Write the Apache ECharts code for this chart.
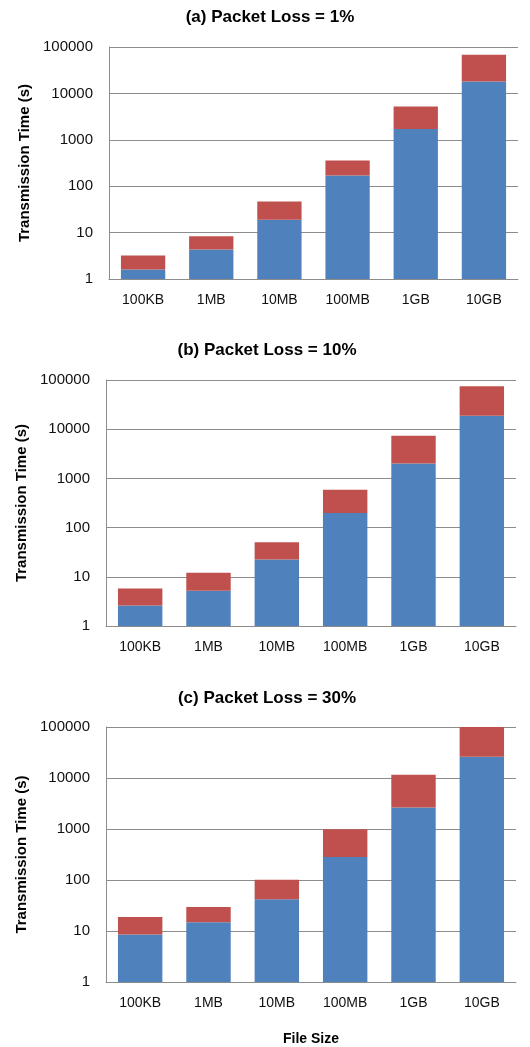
<!DOCTYPE html>
<html>
<head>
<meta charset="utf-8">
<script src="https://cdn.jsdelivr.net/npm/echarts@6/dist/echarts.min.js"></script>
<style>
  html, body { margin: 0; padding: 0; background: #fff; }
  #chart { width: 530px; height: 1047px; }
</style>
</head>
<body>
<div id="chart"></div>
<script>
const fileSizes = ['100KB', '1MB', '10MB', '100MB', '1GB', '10GB'];
const yTicks = [1, 10, 100, 1000, 10000, 100000];

const panelTitles = ['(a) Packet Loss = 1%', '(b) Packet Loss = 10%', '(c) Packet Loss = 30%'];

// blue = lower segment, red = upper segment (stacked)
const blueLoss1 = [1.6, 4.3, 19, 170, 1700, 18000];
const redLoss1 = [1.6, 4.0, 28, 190, 3500, 50000];

const blueLoss10 = [2.6, 5.2, 22.6, 198, 2000, 18800];
const redLoss10 = [3.2, 6.9, 27.6, 392, 5400, 55500];

const blueLoss30 = [8.5, 14.9, 42, 281, 2650, 26100];
const redLoss30 = [10.4, 14.5, 59, 705, 8950, 73900];

const blues = [blueLoss1, blueLoss10, blueLoss30];
const reds = [redLoss1, redLoss10, redLoss30];

const chart = echarts.init(document.getElementById('chart'));

const gridBoxes = [
  { left: 109, top: 47, width: 409, height: 232 },
  { left: 106, top: 380, width: 410, height: 246 },
  { left: 106, top: 727, width: 410, height: 260 }
];
const titlePos = [[265, 4], [262, 337], [262, 685]];

const fontFamily = '"Liberation Sans", Arial, sans-serif';
const gridColor = '#8c8c8c';

const option = {
  animation: false,
  backgroundColor: '#ffffff',
  title: panelTitles.map((t, i) => ({
    text: t,
    left: titlePos[i][0],
    top: titlePos[i][1],
    textAlign: 'center',
    textStyle: { fontFamily, fontSize: 17, fontWeight: 'bold', color: '#000' }
  })),
  grid: gridBoxes.map(g => Object.assign({ containLabel: false }, g)),
  xAxis: gridBoxes.map((g, i) => ({
    type: 'category',
    gridIndex: i,
    data: fileSizes,
    name: i === 2 ? 'File Size' : '',
    nameLocation: 'middle',
    nameGap: 50,
    nameTextStyle: { fontFamily, fontSize: 14, fontWeight: 'bold', color: '#000' },
    axisLine: { lineStyle: { color: gridColor, width: 1 } },
    axisTick: { show: false },
    axisLabel: { fontFamily, fontSize: 14, color: '#111', margin: 14 }
  })),
  yAxis: gridBoxes.map((g, i) => ({
    type: 'log',
    gridIndex: i,
    logBase: 10,
    min: yTicks[0],
    max: yTicks[yTicks.length - 1],
    name: 'Transmission Time (s)',
    nameLocation: 'middle',
    nameGap: 76,
    nameTextStyle: { fontFamily, fontSize: 15, fontWeight: 'bold', color: '#000' },
    axisLine: { show: true, lineStyle: { color: gridColor, width: 1 } },
    axisTick: { show: false },
    splitLine: { lineStyle: { color: gridColor, width: 1 } },
    axisLabel: {
      fontFamily, fontSize: 15, color: '#111', margin: 16,
      formatter: v => String(Math.round(v))
    }
  })),
  series: []
};

for (let i = 0; i < 3; i++) {
  option.series.push({
    type: 'bar',
    xAxisIndex: i,
    yAxisIndex: i,
    stack: 'p' + i,
    data: blues[i],
    barWidth: '65%',
    itemStyle: { color: '#4f81bd' }
  });
  option.series.push({
    type: 'bar',
    xAxisIndex: i,
    yAxisIndex: i,
    stack: 'p' + i,
    data: reds[i],
    barWidth: '65%',
    itemStyle: { color: '#c0504d' }
  });
}

chart.setOption(option);
</script>
</body>
</html>
